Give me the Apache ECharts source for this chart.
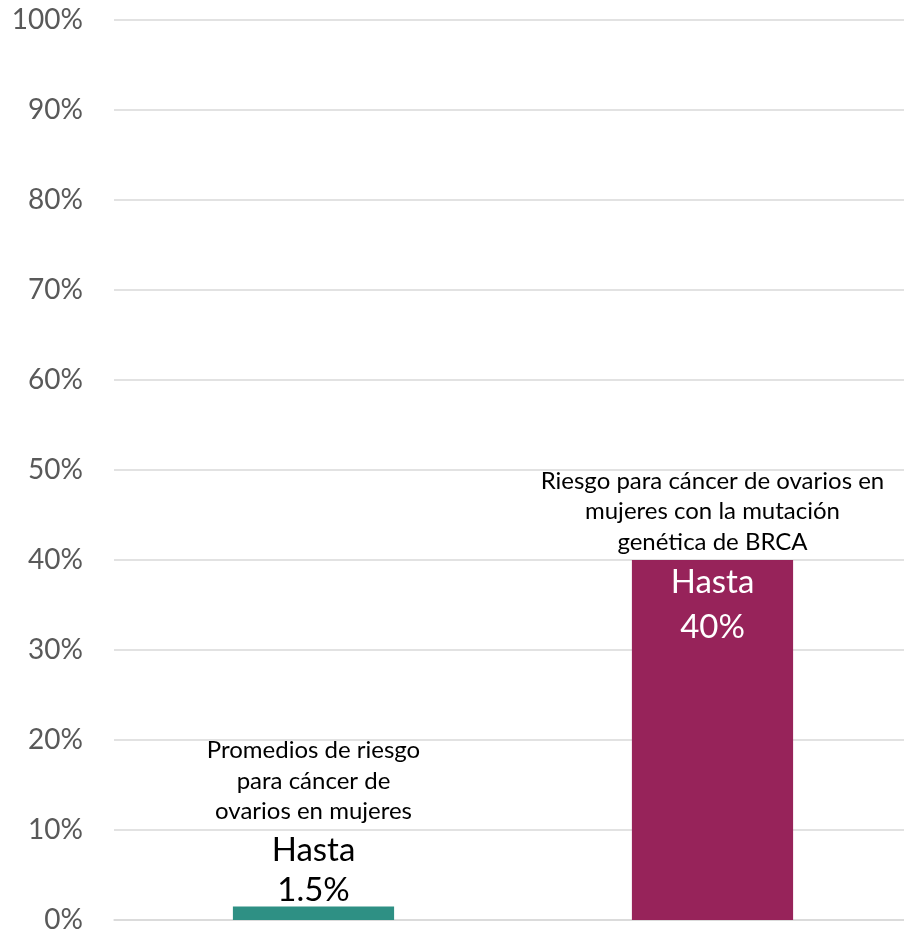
<!DOCTYPE html>
<html><head><meta charset="utf-8">
<script src="https://cdn.jsdelivr.net/npm/echarts@6/dist/echarts.min.js"></script>
<style>html,body{margin:0;padding:0;background:#fff}#c{width:904px;height:931px}</style>
</head><body><div id="c"></div>
<script>
const categories = ['Promedio', 'BRCA'];
const values = [1.5, 40];
const descriptions = [
  'Promedios de riesgo\npara cáncer de\novarios en mujeres',
  'Riesgo para cáncer de ovarios en\nmujeres con la mutación\ngenética de BRCA'
];
const colors = ['#2E9084', '#97235A'];
const yTicks = [0, 10, 20, 30, 40, 50, 60, 70, 80, 90, 100];

const font = 'Lato, "Liberation Sans", sans-serif';
const chart = echarts.init(document.getElementById('c'));

function descRich(s) { return s.split('\n').map(l => '{d|' + l + '}').join('\n'); }

const mainData = values.map((v, i) => {
  const item = { value: v, itemStyle: { color: colors[i] } };
  if (i === 0) {
    item.label = {
      show: true, position: 'top', distance: -4.5,
      formatter: descRich(descriptions[i]) + '\n{h1|Hasta}\n{h|' + v + '%}'
    };
  } else {
    item.label = {
      show: true, position: 'top', distance: 2.5,
      formatter: descRich(descriptions[i])
    };
  }
  return item;
});
const overlayData = values.map((v, i) => {
  const item = { value: v };
  if (i === 1) {
    item.label = {
      show: true, position: 'insideTop', distance: 0,
      formatter: '{w|Hasta}\n{w|' + v + '%}'
    };
  } else {
    item.label = { show: false };
  }
  return item;
});

chart.setOption({
  animation: false,
  grid: { left: 114, top: 20, width: 798, height: 900, containLabel: false, outerBoundsMode: 'none' },
  xAxis: {
    type: 'category', data: categories,
    axisLine: { show: true, lineStyle: { color: '#d9d9d9', width: 1.5 } },
    axisTick: { show: false }, axisLabel: { show: false }
  },
  yAxis: {
    type: 'value', min: 0, max: 100, interval: 10,
    axisLine: { show: false }, axisTick: { show: false },
    axisLabel: { formatter: v => v + '%', color: '#595959', fontSize: 28, fontFamily: font, margin: 31 },
    splitLine: { lineStyle: { color: '#d9d9d9', width: 1.5 } }
  },
  series: [
    {
      type: 'bar', data: mainData, barWidth: '40.4%', barGap: '-100%',
      label: {
        align: 'center',
        rich: {
          d: { fontSize: 24, lineHeight: 30.5, color: '#000', fontFamily: font, align: 'center' },
          h1: { fontSize: 33, lineHeight: 42, padding: [4, 0, 0, 0], color: '#000', fontFamily: font, align: 'center' },
          h: { fontSize: 33, lineHeight: 42, color: '#000', fontFamily: font, align: 'center' }
        }
      }
    },
    {
      type: 'bar', data: overlayData, barWidth: '40.4%', barGap: '-100%',
      itemStyle: { color: 'rgba(0,0,0,0)' }, silent: true,
      label: {
        rich: {
          w: { fontSize: 33, lineHeight: 45, color: '#fff', fontFamily: font, align: 'center' }
        }
      }
    }
  ]
});
</script></body></html>
